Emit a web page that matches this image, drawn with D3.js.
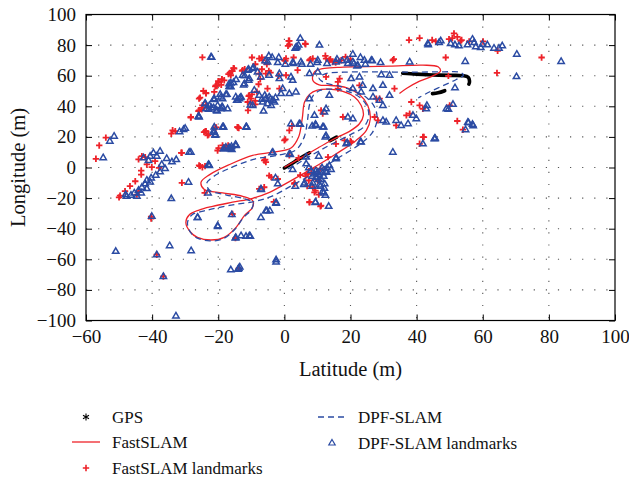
<!DOCTYPE html>
<html>
<head>
<meta charset="utf-8">
<script src="https://cdn.jsdelivr.net/npm/d3@7"></script>
<style>
body { margin: 0; background: #fff; }
svg { display: block; font-family: "Liberation Serif", "Times New Roman", serif; }
</style>
</head>
<body>
<svg width="629" height="483"></svg>
<script>
// axis ticks
let xTicks = [-60, -40, -20, 0, 20, 40, 60, 80, 100];
let yTicks = [-100, -80, -60, -40, -20, 0, 20, 40, 60, 80, 100];

// GPS track pieces (m)
let gpsSegments = [
    [[0, -0.3], [2, 2.3], [4, 5], [6, 7.6], [7.6, 9.6]],
    [[13.8, 17.6], [15.8, 19.9]],
    [[35.8, 61.6], [40, 61], [45, 60.5], [50, 60.2], [54, 60], [55.6, 59], [56, 56.5], [55.8, 54.5]],
    [[44.8, 48.3], [46.5, 48.8], [48.5, 50.2]]
];

// FastSLAM estimated path
let fastPath = [
    [0, 0.2], [3.3, 4.2], [6.6, 8.3], [10, 12.6], [13.6, 17], [17, 20.8], [19.7, 23.6], [22.7, 28.6],
    [23.9, 34.1], [23.2, 40.7], [21.2, 46.1], [17.7, 49.8], [13.5, 51.2], [10, 50.5], [7.6, 47.8],
    [6.1, 42.8], [5.4, 31.9], [4.3, 19.9], [2, 12.7], [-3.5, 10], [-9.6, 7.9], [-16.7, 1.8],
    [-22.7, -4.8], [-25.2, -9.6], [-24.2, -14.4], [-18.7, -16.6], [-12.6, -18.8], [-9.6, -21.6],
    [-9.6, -26], [-12.1, -31.5], [-14.6, -39.1], [-18.2, -45.7], [-22.2, -47.4], [-26.3, -45.7],
    [-28.5, -42], [-29.8, -36], [-28.8, -31], [-25.8, -27.8], [-21.7, -25.4], [-15.7, -22.7],
    [-9.6, -20.1], [-4.5, -16.2], [1.5, -9.2], [8.6, -0.4], [15.7, 9], [21.7, 17.7], [24.8, 24.3],
    [26, 31.9], [25.2, 40.7], [22.7, 47.7], [18.7, 52.2], [14, 53.6], [10.5, 54], [8.6, 57],
    [9.1, 62.5], [11.6, 64.6], [16, 65.4], [21.7, 65.8], [31.8, 66.2], [41.9, 66.9], [46.5, 65.8],
    [47.2, 63], [44.9, 59.9], [40.9, 56.4], [36.9, 51.6], [34.8, 48.3]
];

// DPF-SLAM estimated path
let dpfPath = [
    [1, -1], [4, 2.5], [7, 6.5], [10.5, 10.8], [14, 15], [20, 21.5], [24, 26.5], [25.5, 33], [25, 40],
    [23, 45.5], [19.5, 49.5], [15, 51.2], [11, 50.5], [8.7, 47], [7.6, 41], [7, 31], [6, 20],
    [3.5, 11.5], [-2, 8], [-9, 5.5], [-16, 0], [-21.5, -6], [-23.5, -10.5], [-22.5, -15],
    [-17.5, -18], [-12, -20.5], [-9.5, -23], [-10, -27.5], [-12.5, -33], [-15, -40.5],
    [-18.5, -46.5], [-22.5, -48], [-26.5, -46], [-28.5, -42], [-29.3, -36], [-28, -31],
    [-24.5, -28.5], [-20.5, -26.5], [-14.5, -24], [-8.5, -22], [-3.5, -18.5], [2.5, -11.5],
    [9.5, -3], [16.5, 6.5], [23, 15.5], [26.5, 22.5], [28, 30.5], [27.5, 38.5], [25, 45.5],
    [20.5, 50.5], [16, 53.5], [12, 55.5], [10.5, 58.5], [12.5, 61.3], [18, 62.3], [28, 62.5],
    [38, 62.3], [48, 62.5], [53, 62.3], [54.2, 60.5], [52, 57.5], [48.5, 54], [44, 49.5], [40.5, 45.5]
];

// FastSLAM landmarks
let fastLandmarks = [
    [-57, 5.7], [-56, 14.4], [-54, 19.5], [-50, -19.5], [-31, 9.6], [-31, -10], [-25.5, 0.9], [-24, 0.9],
    [-24.5, 50], [-24.8, 72], [-28.3, 32.6], [-25.8, 37.4], [-24.7, 39], [-23.7, 40.7], [-25.5, 45.7],
    [-23.7, 48.7], [-20.9, 53], [-20, 56.4], [-18.9, 57.5], [-15.7, 63], [-15.2, 64.7], [-16.5, 61.8],
    [-13.8, 25.8], [-20.6, 26.2], [-23.7, 23.8], [-23.2, 21], [-19.9, 12.7], [-17, 14.4], [-14.1, 26.4],
    [1.5, 82.8], [1.5, 80.5], [6.3, 81],
    [-7.6, 71.2], [-6.6, 70.1], [0, 70.1], [0.5, 71.2], [7.6, 70.1], [8.6, 71.2], [12.6, 71.2],
    [13.6, 70.1], [14.6, 69], [17.2, 70.1], [32.8, 70.1], [-12.6, 63.6], [-16.2, 60.3], [-18.2, 57],
    [-20.7, 53.7], [-21.2, 49.4], [-25.8, 45], [-28.3, 33], [-24.8, 40.6], [-10.6, 47.2], [-10.1, 45],
    [-11.1, 42.8], [-5.1, 51.6], [-1.5, 51.6], [-7.6, 61.4], [-5.6, 61.4], [0.5, 60.3], [4, 63.6],
    [12.6, 59.2], [16.2, 55.9], [16.7, 58.1], [22.7, 53.7], [27.8, 45], [28.8, 45], [33.3, 51.6],
    [27.3, 33], [28.3, 30.8], [33.8, 27.5], [36.9, 34.1], [37.9, 35.2], [38.4, 42.8], [41.9, 19.9],
    [40.9, 15.5], [41.9, 38.4], [-5.6, 3.5], [-6.1, 4.6], [1.5, 7.9], [7.1, -4.2], [8.1, -0.9],
    [8.6, -12.9], [10.1, -8.6], [9.1, -16.2], [11.1, -24.9], [7.6, -22.8], [3, -10.7], [-4.6, -5.3],
    [-2, -7.5], [-6.1, -12.9], [-7.6, -14], [-15.7, -30.4], [-14.2, 26.4], [-18.7, 14.4], [-17.7, 13.3],
    [-20.2, 11.1], [-24.3, 23.1], [-25.8, 1.3], [-24.8, 0.2], [0, 17.7], [1.5, 24.2], [17.7, 33],
    [18.2, 17.7], [15.6, 15.5], [20.2, 16.6], [16.2, 51.6], [11.1, 37.3], [11.6, 35.2], [40.9, 40.6],
    [50, 40.6],
    [-9.8, 71.9], [-6.8, 71.9], [-15.9, 63.1], [-15.4, 64.9], [-16.9, 61], [-12.8, 63.1], [-12, 64.2],
    [-18.9, 57.7], [-20.4, 53.3], [-19.1, 54], [-19.9, 55.5], [-7.3, 57.7], [-7.8, 54.4], [-8.8, 67.5],
    [-6.8, 64.2], [-23.7, 48.5], [-25, 38], [-26, 36.9], [-10.8, 46.7], [-9.8, 47.8], [-8.8, 43.5],
    [-10.3, 42.4], [-8.3, 49.6], [-8.8, 41.3], [-11, 37.3],
    [-34.2, 22.1], [-33, 23.8], [-33.8, 24.3], [-23.9, 23.8], [-20.9, 26], [-22.9, 21.6], [-14, 26],
    [-18.1, 12.9], [-31.2, 9.6], [-44.1, 5.3], [-43.1, 7.4], [-42.1, 6.8], [-40.1, 0.2], [-37.9, -0.2],
    [-43.3, -2], [-43.3, -4.6], [-45.1, -9], [-46.7, -12.2], [-48.2, -15.5], [-49.7, -18.4],
    [-44.1, -15.5], [-44.6, -17.7], [-39.1, 4.2], [-41.6, 2], [-24.1, -16.6], [-40.3, -33.4],
    [1.3, 82.8], [1.1, 79.5], [6.4, 80.6], [37.7, 83.3], [40.9, 84.6], [44.7, 83.3], [45.8, 82.4],
    [0.3, 69.7], [2.8, 71.9], [7.9, 70.8], [12.4, 73], [13.9, 70.8], [15.5, 68.6], [18.5, 72.3],
    [20, 70.8], [16.5, 69.7], [-5.3, 67.5], [-4.2, 62], [-1.7, 59.9], [-4.7, 63.1], [33.1, 70.8],
    [51.3, 87.6], [49.8, 83.9], [50.8, 84.6], [52.3, 85.4], [53.3, 82.8], [53.6, 83.3], [55.9, 82.4],
    [60.1, 82.4], [64.5, 76.3], [77.8, 71.9], [48.8, 71.9], [64.3, 61.8], [49.6, 59.9], [52.3, 30.4],
    [54, 24.7], [42.2, 19.9], [13.2, 6.8], [-4, -6.3], [4.8, -5], [6.9, -4.2], [6.4, -5.7], [10.9, -0.7],
    [7.4, -8.5], [6.9, -12.2], [9.4, -15.1], [10.4, -17.7], [7.6, -22.5], [10.9, -25.4], [3.1, -10.1],
    [-3.2, -22.5], [2.3, 27.1], [0.3, 18.4], [-5.8, 5.2], [4.3, 6.3], [20, 17.3],
    [-38.6, -57], [-36.6, -71.2], [-14.8, -46.1], [-13.8, -66], [-40.3, -32.2]
];

// DPF-SLAM landmarks
let dpfLandmarks = [
    [-52.8, 17.2], [-51.5, 20.5], [-54.8, 6.4], [-48, -17.7], [-28.8, 10], [-29, -9.6], [-23, 1.8],
    [-22, 72], [-26, 33.4], [-24, 42], [-21.2, 44.4], [-22, 39], [-20.5, 37.4], [-19.2, 46], [-17.7, 47.7],
    [-18.7, 39.5], [-16.7, 53], [-16.2, 55.3], [-14.6, 57.5], [-14.1, 44], [-13.1, 46], [-18.5, 26.4],
    [-21.4, 23.8], [-20.9, 21], [-11.4, 26.4], [-18.4, 12.2], [-17.7, 13.3], [-16.7, 12.7], [-16, 13.8],
    [-14.8, 15.1], [4.8, 84.4], [3.5, 78.5], [4.3, 80], [10.6, 80],
    [-22.2, 72.3], [-5.1, 69], [-2, 68.6], [2.5, 68.6], [5, 69], [10.1, 70.1], [15.6, 69], [19.2, 68],
    [20.7, 69], [22.2, 66.9], [24.2, 70.1], [26.3, 70.1], [37.9, 69], [29.3, 60.7], [31.8, 60.3],
    [-11.1, 63.6], [-9.6, 64.7], [-8.1, 62.5], [-7.1, 59.2], [-12.6, 60.3], [-10.6, 58.1], [-16.7, 54.8],
    [-16.2, 52.7], [-12.1, 54.8], [-4.6, 60.3], [-1.5, 61.4], [-1.5, 58.1], [2, 59.2], [2.5, 57],
    [-0.5, 51.6], [7.6, 61.4], [10.1, 62.5], [-4.6, 46.1], [-5.6, 45], [-3.5, 43.9], [-5.1, 41.7],
    [-4, 40.6], [-3, 42.8], [-6.6, 42.8], [-4.2, 44.8], [-5.9, 47.2], [-2.7, 45.6], [-9.1, 50.5],
    [-7.6, 47.2], [1.5, 48.3], [-1, 48.3], [3.5, 49.4], [20.2, 58.1], [22.7, 59.2], [20.7, 51.6],
    [23.2, 49.4], [23.7, 53.7], [26.8, 51.6], [29.8, 53.7], [26.8, 46.1], [28.8, 43.9], [29.8, 40.6],
    [31.8, 47.2], [29.8, 30.8], [30.8, 29.7], [33.8, 30.8], [35.3, 27.5], [37.4, 28.6], [38.9, 34.1],
    [39.9, 31.9], [42.9, 38.4], [43.1, 40.6], [45.4, 18.8], [32.8, 10], [41.9, 15.5], [49, 38.4],
    [-21.2, 45], [-22.7, 40.6], [-20.2, 40.6], [-19.2, 38.4], [-17.2, 38.4], [-18.7, 45], [-23.7, 38.4],
    [-25.8, 33], [-14.7, 46.1], [-13.6, 45], [-9.6, 40.6], [-28.3, 10], [-22.7, 1.3], [-18.2, 12.2],
    [-16.2, 12.2], [-14.7, 14.4], [-21.2, 26.4], [-21.2, 23.1], [-18.7, 26.4], [-11.6, 26.4], [-3.5, 10],
    [1.5, 8.9], [6.6, 6.8], [2, 28.6], [4.5, 28.6], [9.6, 27.5], [11.6, 26.4], [12.6, 38.4], [12.1, 36.2],
    [19.2, 33], [20.7, 31.9], [12.6, 20.9], [18.7, 15.5], [23.2, 16.6], [15.6, 5.7], [7.6, 45],
    [9.1, 34.1], [13.6, 47.2], [-2, -10.7], [-7.1, -14], [-2.5, -22.8], [-5.6, -28.2], [-7.1, -32.6],
    [-20.2, -38.1], [-26.3, -32.6], [-14.7, -45.7], [-13.1, -44.6], [-10.6, -44.6],
    [8.1, -2], [9.1, -4.2], [10.1, -3.1], [11.6, -3.5], [9.6, -6.3], [11.1, -7.9], [8.6, -10.1],
    [10.6, -11.4], [12.1, -13.6], [12.8, -3.1], [14.1, -1.3], [11.6, -15.8], [9.4, -22.8], [13.4, -25.4],
    [6.1, -10.1], [2.5, -1.3], [13.6, 1.3], [6.6, 2.4],
    [-10.8, 64.2], [-9.3, 65.3], [-12, 59.9], [-10.8, 57], [-16.4, 53.3], [-15.4, 55.5], [-12.3, 54],
    [-19.4, 47.8], [-17.4, 47.8], [-21.4, 44.6], [-23.9, 41.7], [-22.9, 38], [-21.4, 39.1], [-25.9, 33.6],
    [-20.4, 36.9], [-18.9, 39.5], [-14.4, 43.9], [-13.3, 45.7], [-10.3, 40.8], [-6.3, 36.9], [-6.8, 44.6],
    [-31.7, 23.4], [-30.5, 24.9], [-30, 25.6], [-20.9, 21.6], [-18.4, 26.5], [-11.5, 26.5], [-16.7, 12.9],
    [-14.6, 14.6], [-15.9, 11.8], [-32.7, 5.2],
    [-39.6, 9.6], [-38.6, 7.4], [-37.6, 10.7], [-40.6, 7.4], [-42.6, 6.3], [-41.1, 4.6], [-35.6, 5.9],
    [-34, 3.7], [-37.1, 2], [-36.1, -0.6], [-37.6, -2.8], [-38.9, -5], [-40.3, -6.8], [-41.6, -8.3],
    [-42.1, -10.7], [-43.1, -12.9], [-44.1, -14.9], [-45.4, -16.6], [-46.4, -18.1], [-47.7, -18.8],
    [-40.6, -9.4], [-41.6, -13.8], [-43.3, -16.6], [-44.6, -18.8],
    [-22.9, 2], [-34.2, -20.3], [-23.1, -16.6], [-40.1, -31.9], [-26.2, -32.6], [-20.1, -38.5],
    [-15.9, -30.8], [-7, -14.4],
    [-51, -54.8], [-38.6, -57], [-34.7, -51.1], [-28.2, -54.4], [-36.6, -71.2], [-32.8, -97],
    [-14.8, -46.1], [-11.6, -45], [-10.3, -45], [-16.2, -66.9], [-13.8, -65.8], [-13.5, -65],
    [-14, -66.5], [-2.5, -60.3], [-2.5, -61.8], [-4.4, -28.2], [-2.5, -23.4],
    [3.8, 78.9], [3.3, 78], [43.5, 80.2], [46.8, 81.7], [47.3, 82.8],
    [-4.7, 73], [-3.7, 71.9], [-1.7, 71.9], [-5.8, 69.7], [0.3, 67.5], [2.8, 68], [5.3, 67.5],
    [7.9, 67.5], [9.9, 68.6], [12.9, 68], [15.9, 70.8], [17.5, 69.7], [19, 70.1], [20.7, 74.1],
    [21, 68], [23, 71.9], [24.5, 67.5], [26.6, 69.7], [29.1, 68.6], [22, 66.4],
    [50.3, 81.1], [51.6, 80.2], [52.8, 79.5], [55.4, 80.2], [56.9, 83.9], [57.4, 81.7], [57.9, 78.9],
    [59.4, 78.4], [59.9, 80.6], [61.4, 80.2], [63.4, 78], [64.9, 78], [65.9, 79.5],
    [70.3, 74.1], [83.7, 69.3], [54.7, 69.3], [70.2, 59.4], [51.6, 52.2], [51, 41.3], [49.6, 38],
    [55.7, 29.3], [56.9, 28.2], [43.4, 81.1], [55.5, 29.5], [57.1, 27.3], [54.8, 24.7], [45.5, 19.2],
    [45.6, 19], [23, 16.8], [19, 16.2], [15.7, 6.3],
    [7.4, -0.2], [9.4, -2.4], [10.4, -4.6], [11.4, -0.2], [12.9, -0.2], [8.4, -5.7], [10.4, -7.9],
    [11.9, -5.7], [12.4, -2.4], [5.9, -11.1], [8.4, -12.2], [10.9, -12.2], [11.9, -16.6], [12.4, -18.1],
    [3.3, -12.2], [-2.7, -6.8], [-5.3, -28.2], [9.4, -22.5], [12.2, -10.7],
    [4.8, 28.2], [8.4, 27.1], [9.4, 28.2], [11.9, 26.5], [1.8, 8.5], [-3.7, 9.6], [10.4, 7.4], [12.4, 19.9]
];

// legend entries
let legendLabels = ['GPS', 'FastSLAM', 'FastSLAM landmarks', 'DPF-SLAM', 'DPF-SLAM landmarks'];

const RED = '#ee2229';
const BLUE = '#2b4ba3';
const TRI = 'M0,-3.5L3.2,2L-3.2,2Z';
const PLUS = 'M-3.2,0H3.2M0,-3.2V3.2';

let svg = d3.select('svg');

let x = d3.scaleLinear().domain([-60, 100]).range([86, 615]);
let y = d3.scaleLinear().domain([-100, 100]).range([320.5, 14.5]);

let fmt = (d) => d < 0 ? '\u2212' + Math.abs(d) : String(d);

// dotted grid
let grid = svg.append('g').attr('stroke', '#555').attr('stroke-width', 1.1)
    .attr('stroke-dasharray', '1.2,10.9');
grid.selectAll('line.v')
    .data(xTicks.slice(1, -1))
    .enter().append('line')
        .attr('x1', (d) => x(d)).attr('x2', (d) => x(d))
        .attr('y1', y(100)).attr('y2', y(-100));
grid.selectAll('line.h')
    .data(yTicks.slice(1, -1))
    .enter().append('line')
        .attr('y1', (d) => y(d)).attr('y2', (d) => y(d))
        .attr('x1', x(-60)).attr('x2', x(100));

let line = d3.line()
    .x((d) => x(d[0]))
    .y((d) => y(d[1]))
    .curve(d3.curveCatmullRom.alpha(0.5));

// GPS
svg.append('g').selectAll('path')
    .data(gpsSegments)
    .enter().append('path')
        .attr('d', d3.line().x((d) => x(d[0])).y((d) => y(d[1])).curve(d3.curveCatmullRom))
        .attr('fill', 'none')
        .attr('stroke', '#000')
        .attr('stroke-width', 3.6)
        .attr('stroke-linecap', 'round')
        .attr('stroke-linejoin', 'round');

// FastSLAM path
svg.append('path')
    .datum(fastPath)
    .attr('d', line)
    .attr('fill', 'none')
    .attr('stroke', RED)
    .attr('stroke-width', 1.3);

// FastSLAM landmarks
svg.append('g').selectAll('path')
    .data(fastLandmarks)
    .enter().append('path')
        .attr('transform', (d) => `translate(${x(d[0])},${y(d[1])})`)
        .attr('d', PLUS)
        .attr('stroke', RED)
        .attr('stroke-width', 1.8);

// DPF-SLAM path
svg.append('path')
    .datum(dpfPath)
    .attr('d', line)
    .attr('fill', 'none')
    .attr('stroke', BLUE)
    .attr('stroke-width', 1.3)
    .attr('stroke-dasharray', '6,4');

// DPF-SLAM landmarks
svg.append('g').selectAll('path')
    .data(dpfLandmarks)
    .enter().append('path')
        .attr('transform', (d) => `translate(${x(d[0])},${y(d[1])})`)
        .attr('d', TRI)
        .attr('fill', 'none')
        .attr('stroke', BLUE)
        .attr('stroke-width', 1.5);

// axes
function styleAxis(g){
    g.select('.domain').remove();
    g.selectAll('line').attr('stroke', '#000').attr('stroke-width', 1);
    g.selectAll('text').attr('fill', '#111').attr('font-size', 19)
        .attr('font-family', '"Liberation Serif", "Times New Roman", serif');
}
svg.append('g')
    .attr('transform', `translate(0,${y(-100)})`)
    .call(d3.axisBottom(x).tickValues(xTicks).tickSize(-6).tickPadding(9).tickFormat(fmt))
    .call(styleAxis);
svg.append('g')
    .attr('transform', `translate(0,${y(100)})`)
    .call(d3.axisTop(x).tickValues(xTicks).tickSize(-6).tickFormat(''))
    .call(styleAxis);
svg.append('g')
    .attr('transform', `translate(${x(-60)},0)`)
    .call(d3.axisLeft(y).tickValues(yTicks).tickSize(-6).tickPadding(10).tickFormat(fmt))
    .call(styleAxis);
svg.append('g')
    .attr('transform', `translate(${x(100)},0)`)
    .call(d3.axisRight(y).tickValues(yTicks).tickSize(-6).tickFormat(''))
    .call(styleAxis);

// frame
svg.append('rect')
    .attr('x', x(-60)).attr('y', y(100))
    .attr('width', x(100) - x(-60)).attr('height', y(-100) - y(100))
    .attr('fill', 'none').attr('stroke', '#000').attr('stroke-width', 1.2);

// axis titles
svg.append('text')
    .attr('x', (x(-60) + x(100)) / 2).attr('y', 376)
    .attr('text-anchor', 'middle').attr('font-size', 20.5).attr('fill', '#111')
    .text('Latitude (m)');
svg.append('text')
    .attr('transform', `translate(25,${(y(100) + y(-100)) / 2}) rotate(-90)`)
    .attr('text-anchor', 'middle').attr('font-size', 20.5).attr('fill', '#111')
    .text('Longitude (m)');

// legend
let legend = svg.append('g').attr('font-size', 17).attr('fill', '#111');
let legendPos = [[86, 417], [86, 442], [86, 468], [332, 417], [332, 443]];
legendLabels.forEach((label, i) => {
    let g = legend.append('g').attr('transform', `translate(${legendPos[i][0]},${legendPos[i][1]})`);
    if(i === 0){
        g.append('path').attr('d', 'M0,-3.5V3.5M-3,-1.75L3,1.75M-3,1.75L3,-1.75')
            .attr('stroke', '#000').attr('stroke-width', 1.1);
    } else if(i === 1){
        g.append('line').attr('x1', -14).attr('x2', 14).attr('stroke', RED).attr('stroke-width', 1.3);
    } else if(i === 2){
        g.append('path').attr('d', PLUS).attr('stroke', RED).attr('stroke-width', 1.6);
    } else if(i === 3){
        g.append('line').attr('x1', -14).attr('x2', 15).attr('stroke', BLUE).attr('stroke-width', 1.3)
            .attr('stroke-dasharray', '6,4');
    } else {
        g.append('path').attr('d', TRI).attr('fill', 'none')
            .attr('stroke', BLUE).attr('stroke-width', 1.2);
    }
    g.append('text').attr('x', 26).attr('y', 6).text(label);
});
</script>
</body>
</html>
